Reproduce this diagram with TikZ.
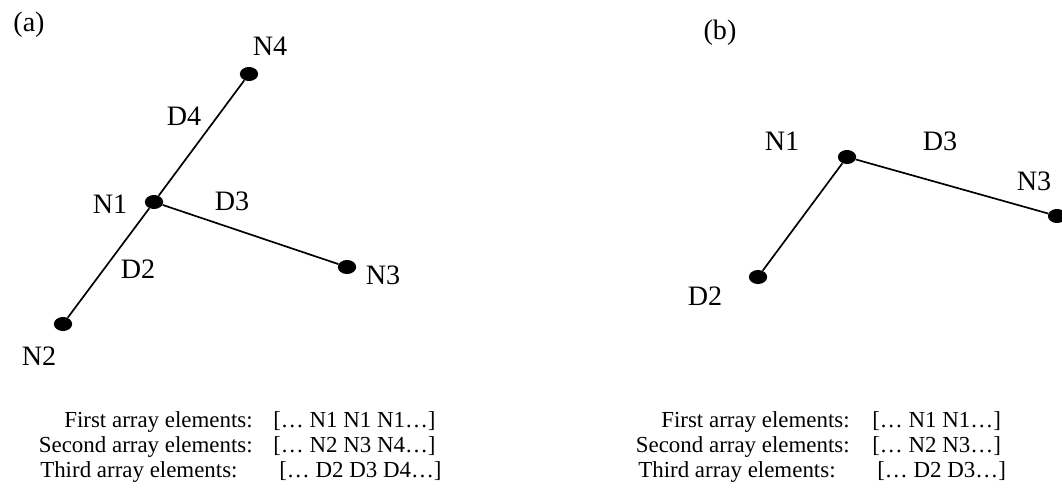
\documentclass[tikz,border=0pt]{standalone}
\usepackage{fontspec}
\setmainfont{Liberation Serif}
\usepackage{tikz}
\usetikzlibrary{shapes,positioning}
\tikzset{
  point-style/.style = {
    ellipse, fill=black, inner sep=0pt,
    minimum width=13pt,
    minimum height=10pt
  },
  name-style/.style = {
    inner sep=0pt,
    font=\fontsize{20}{24}\selectfont
  },
  array-style/.style = {
    inner sep=0pt, anchor=base #1,
    font=\fontsize{16.3}{20}\selectfont
  },
  array-style/.default = west,
  link-style/.style = {draw, line width=1.2pt}
}
\def\createPoint name:#1 at:#2;{
  \node [point-style] (#1) at (#2) {};
}
\def\createName name:#1 display:#2 at:#3;{
  \node [name-style] (#1) at (#3) {#2};
}
\begin{document}
\begin{tikzpicture}[x=0.025cm,y=-0.025cm]
  \useasboundingbox (0,0) rectangle (1062,487);

  % panel (a)
  \createName name:a-title display:{(a)} at:29,25;
  \createPoint name:a-n1 at:154,202;
  \createPoint name:a-n2 at:63,324;
  \createPoint name:a-n3 at:347,267;
  \createPoint name:a-n4 at:249,74;
  \path[link-style] (a-n2) -- (a-n1) -- (a-n4);
  \path[link-style] (a-n1) -- (a-n3);
  \createName name:a-n1-name display:N1 at:110,204;
  \createName name:a-n2-name display:N2 at:39,356;
  \createName name:a-n3-name display:N3 at:383,275;
  \createName name:a-n4-name display:N4 at:270,46;
  \createName name:a-d2-name display:D2 at:138,269;
  \createName name:a-d3-name display:D3 at:232,201;
  \createName name:a-d4-name display:D4 at:184,116;

  \node[array-style=east] (a-first) at (253,427) {First array elements:};
  \node[array-style=east] (a-second) at (253,452) {Second array elements:};
  \node[array-style] (a-third) at (40,477) {Third array elements:};
  \node[array-style] (a-first-list) at (273,427) {[… N1 N1 N1…]};
  \node[array-style] (a-second-list) at (273,452) {[… N2 N3 N4…]};
  \node[array-style] (a-third-list) at (279,477) {[… D2 D3 D4…]};

  % panel (b)
  \createName name:b-title display:{(b)} at:720,33;
  \createPoint name:b-n1 at:847,157;
  \createPoint name:b-n3 at:1057,216;
  \createPoint name:b-d2 at:758,277;
  \path[link-style] (b-d2) -- (b-n1) -- (b-n3);
  \createName name:b-n1-name display:N1 at:782,141;
  \createName name:b-d3-name display:D3 at:940,141;
  \createName name:b-n3-name display:N3 at:1034,181;
  \createName name:b-d2-name display:D2 at:705,296;

  \node[array-style=east] (b-first) at (850,427) {First array elements:};
  \node[array-style=east] (b-second) at (850,452) {Second array elements:};
  \node[array-style] (b-third) at (638,477) {Third array elements:};
  \node[array-style] (b-first-list) at (872,427) {[… N1 N1…]};
  \node[array-style] (b-second-list) at (872,452) {[… N2 N3…]};
  \node[array-style] (b-third-list) at (877,477) {[… D2 D3…]};
\end{tikzpicture}
\end{document}
